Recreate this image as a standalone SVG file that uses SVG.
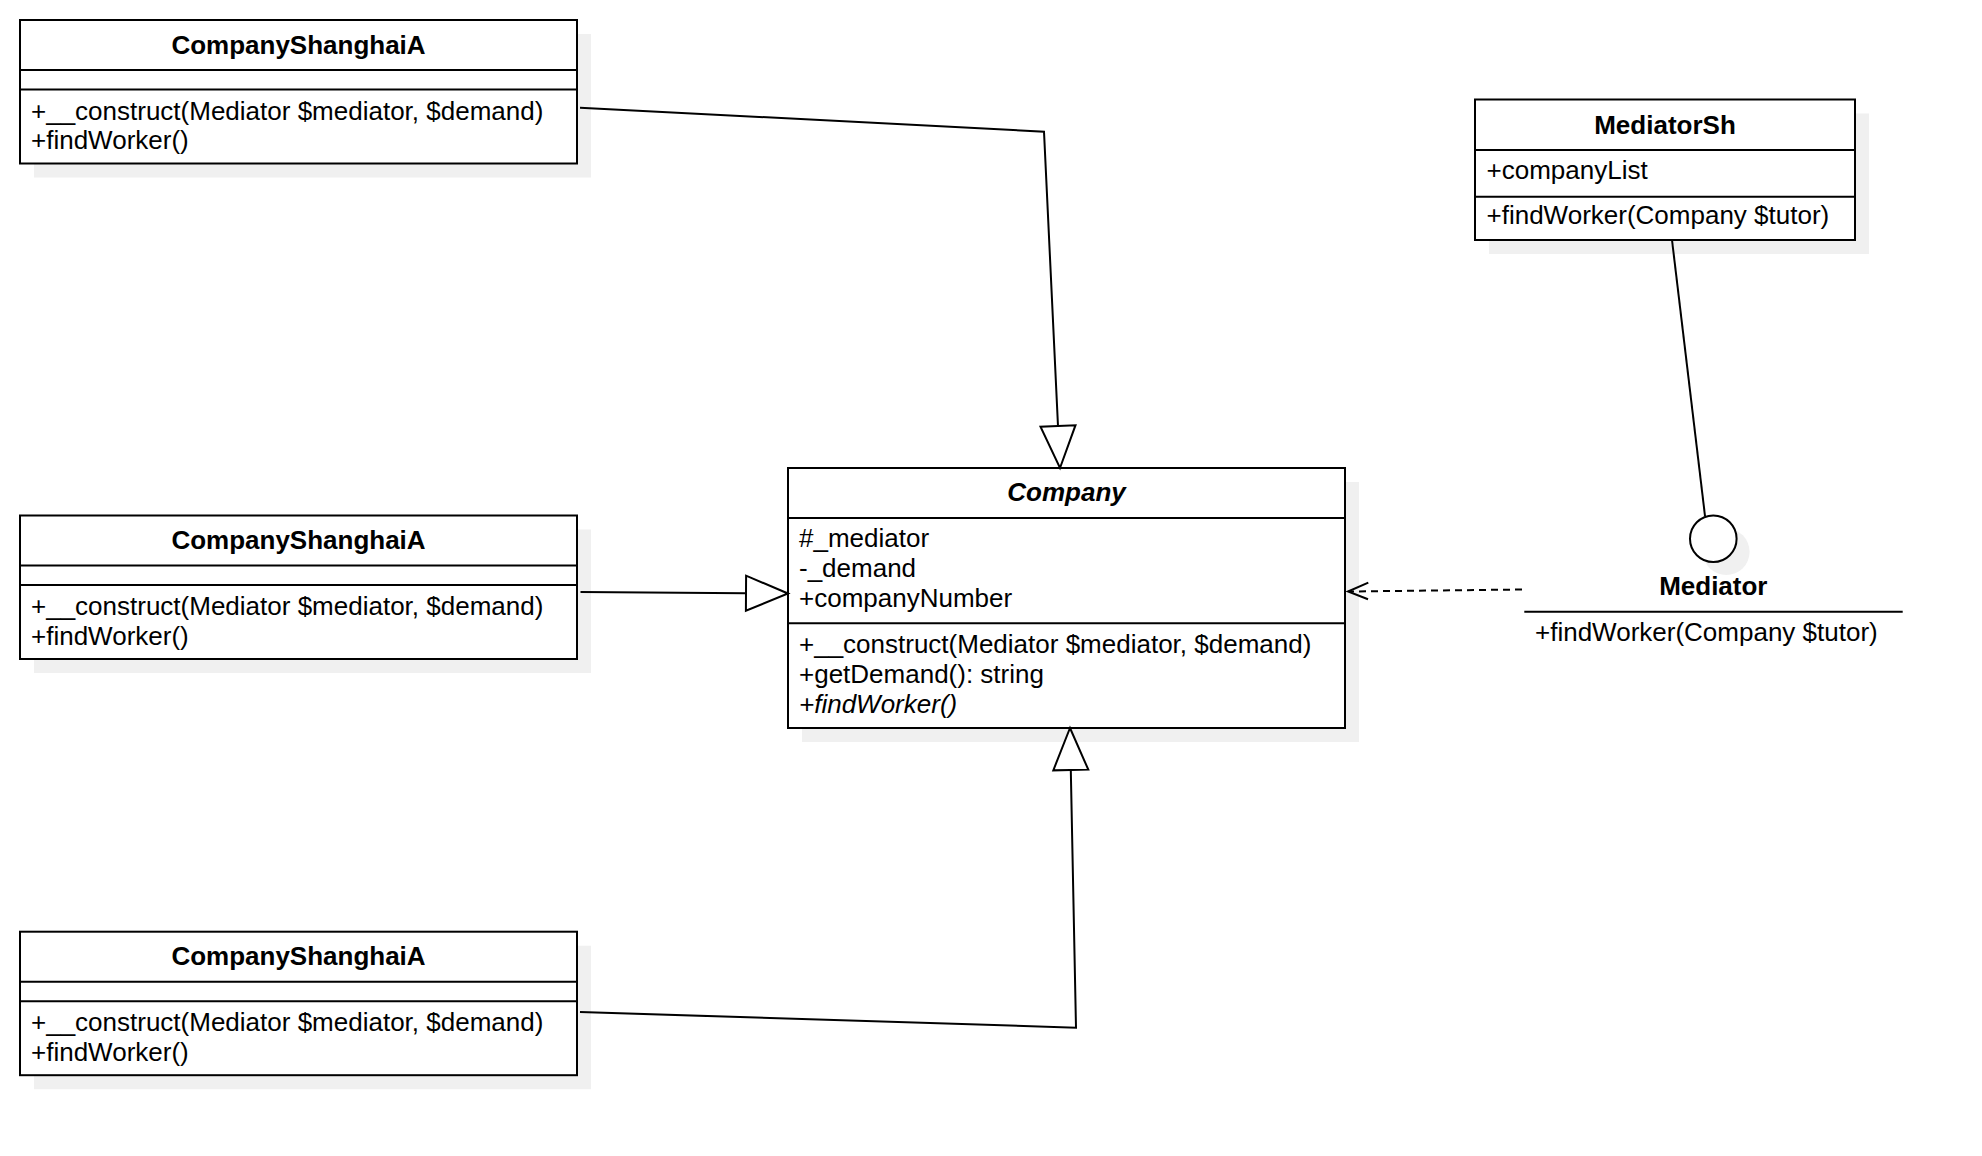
<svg xmlns="http://www.w3.org/2000/svg" width="1982" height="1156" viewBox="0 0 1982 1156">
  <style>
    .box { fill: #ffffff; stroke: #000000; stroke-width: 2; }
    .shadow { fill: #f0f0f0; stroke: none; }
    .sep { stroke: #000000; stroke-width: 2; fill: none; }
    .title { font-family: "Liberation Sans", Arial, sans-serif; font-size: 26px; font-weight: bold; fill: #000000; text-anchor: middle; }
    .member { font-family: "Liberation Sans", Arial, sans-serif; font-size: 26px; fill: #000000; }
    .edge { stroke: #000000; stroke-width: 2; fill: none; }
    .head { stroke: #000000; stroke-width: 2; fill: #ffffff; }
    .dashed { stroke: #000000; stroke-width: 2; fill: none; stroke-dasharray: 7 5; }
  </style>
  <rect width="1982" height="1156" fill="#ffffff"/>

  <g id="companyShanghaiA1" transform="translate(20,20)">
    <rect class="shadow" x="14" y="14" width="557" height="143.5"/>
    <rect class="box" x="0" y="0" width="557" height="143.5"/>
    <line class="sep" x1="0" y1="50" x2="557" y2="50"/>
    <line class="sep" x1="0" y1="69.5" x2="557" y2="69.5"/>
    <text class="title" x="278.5" y="33.5">CompanyShanghaiA</text>
    <text class="member" x="11" y="99.5">+__construct(Mediator $mediator, $demand)</text>
    <text class="member" x="11" y="129">+findWorker()</text>
  </g>

  <g id="companyShanghaiA2" transform="translate(20,515.5)">
    <rect class="shadow" x="14" y="14" width="557" height="143.5"/>
    <rect class="box" x="0" y="0" width="557" height="143.5"/>
    <line class="sep" x1="0" y1="50" x2="557" y2="50"/>
    <line class="sep" x1="0" y1="69.5" x2="557" y2="69.5"/>
    <text class="title" x="278.5" y="33.5">CompanyShanghaiA</text>
    <text class="member" x="11" y="99.5">+__construct(Mediator $mediator, $demand)</text>
    <text class="member" x="11" y="129">+findWorker()</text>
  </g>

  <g id="companyShanghaiA3" transform="translate(20,931.7)">
    <rect class="shadow" x="14" y="14" width="557" height="143.5"/>
    <rect class="box" x="0" y="0" width="557" height="143.5"/>
    <line class="sep" x1="0" y1="50" x2="557" y2="50"/>
    <line class="sep" x1="0" y1="69.5" x2="557" y2="69.5"/>
    <text class="title" x="278.5" y="33.5">CompanyShanghaiA</text>
    <text class="member" x="11" y="99.5">+__construct(Mediator $mediator, $demand)</text>
    <text class="member" x="11" y="129">+findWorker()</text>
  </g>

  <g id="company" transform="translate(788,468)">
    <rect class="shadow" x="14" y="14" width="557" height="260"/>
    <rect class="box" x="0" y="0" width="557" height="260"/>
    <line class="sep" x1="0" y1="50" x2="557" y2="50"/>
    <line class="sep" x1="0" y1="155.3" x2="557" y2="155.3"/>
    <text class="title" x="278.5" y="32.5" font-style="italic">Company</text>
    <text class="member" x="11" y="79.2">#_mediator</text>
    <text class="member" x="11" y="109.2">-_demand</text>
    <text class="member" x="11" y="139.2">+companyNumber</text>
    <text class="member" x="11" y="185">+__construct(Mediator $mediator, $demand)</text>
    <text class="member" x="11" y="215">+getDemand(): string</text>
    <text class="member" x="11" y="245" font-style="italic">+findWorker()</text>
  </g>

  <g id="mediatorSh" transform="translate(1475,99.5)">
    <rect class="shadow" x="14" y="14" width="380" height="140.5"/>
    <rect class="box" x="0" y="0" width="380" height="140.5"/>
    <line class="sep" x1="0" y1="50.5" x2="380" y2="50.5"/>
    <line class="sep" x1="0" y1="97.2" x2="380" y2="97.2"/>
    <text class="title" x="190" y="34">MediatorSh</text>
    <text class="member" x="11.5" y="79.5">+companyList</text>
    <text class="member" x="11.5" y="124.5">+findWorker(Company $tutor)</text>
  </g>

  <g id="mediator">
    <circle class="shadow" cx="1726.3" cy="551.8" r="23.3"/>
    <circle class="box" cx="1713.3" cy="538.8" r="23.3"/>
    <text class="title" x="1713.3" y="595">Mediator</text>
    <line class="sep" x1="1524.3" y1="611.7" x2="1902.7" y2="611.7"/>
    <text class="member" x="1535" y="641">+findWorker(Company $tutor)</text>
  </g>

  <g id="connectors">
    <polyline class="edge" points="580,107.7 1044,131.7 1058,426"/>
    <polygon class="head" points="1060,468 1075.5,425.2 1040.5,426.8"/>

    <polyline class="edge" points="580.5,592 746,593.2"/>
    <polygon class="head" points="788,593.5 746.1,575.7 745.9,610.7"/>

    <polyline class="edge" points="580,1012 1076,1027.7 1070.8,770"/>
    <polygon class="head" points="1070,728 1088.3,769.65 1053.3,770.35"/>

    <line class="dashed" x1="1522" y1="589.5" x2="1350" y2="591.5"/>
    <polyline class="edge" points="1368.3,582.7 1348,591.5 1368,599.3"/>

    <line class="edge" x1="1672" y1="240" x2="1705" y2="516"/>
  </g>
</svg>
